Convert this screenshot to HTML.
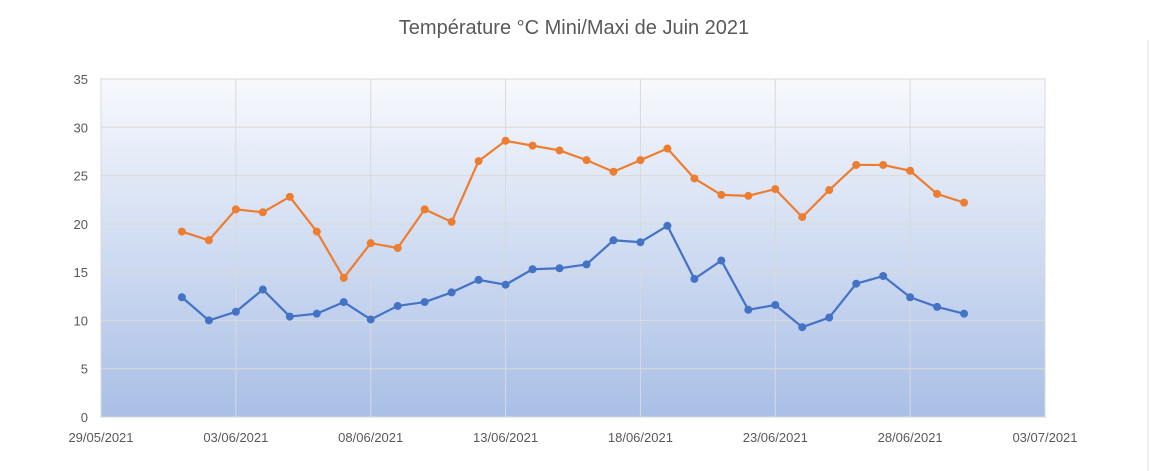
<!DOCTYPE html>
<html><head><meta charset="utf-8"><style>
html,body{margin:0;padding:0;background:#fff;}
svg{display:block;font-family:"Liberation Sans",sans-serif;}
</style></head><body>
<svg id="chart" width="1154" height="471" viewBox="0 0 1154 471">
<defs><linearGradient id="bg" x1="0" y1="0" x2="0" y2="1">
<stop offset="0" stop-color="#f7f9fd"/><stop offset="1" stop-color="#a9bfe6"/></linearGradient></defs>
<text x="574" y="34" text-anchor="middle" font-size="20" fill="#595959">Température °C Mini/Maxi de Juin 2021</text>
<rect x="101" y="79" width="944" height="338" fill="url(#bg)" stroke="#4472c4" stroke-width="1"/>
<line x1="1148" y1="40" x2="1148" y2="471" stroke="#e0e0e0"/>
<g id="grid"></g><g id="axes"></g><g id="series"></g>
</svg>
<script>
const yTicks=[0,5,10,15,20,25,30,35];
const xTickLabels=["29/05/2021","03/06/2021","08/06/2021","13/06/2021","18/06/2021","23/06/2021","28/06/2021","03/07/2021"];
const xTickDays=[-3,2,7,12,17,22,27,32];
const days=[0,1,2,3,4,5,6,7,8,9,10,11,12,13,14,15,16,17,18,19,20,21,22,23,24,25,26,27,28,29];
const maxi=[19.2,18.3,21.5,21.2,22.8,19.2,14.4,18.0,17.5,21.5,20.2,26.5,28.6,28.1,27.6,26.6,25.4,26.6,27.8,24.7,23.0,22.9,23.6,20.7,23.5,26.1,26.1,25.5,23.1,22.2];
const mini=[12.4,10.0,10.9,13.2,10.4,10.7,11.9,10.1,11.5,11.9,12.9,14.2,13.7,15.3,15.4,15.8,18.3,18.1,19.8,14.3,16.2,11.1,11.6,9.3,10.3,13.8,14.6,12.4,11.4,10.7];
const X0=101,X1=1045,Y0=417,Y1=79;
const xs=d=>X0+(d+3)*(X1-X0)/35;
const ys=v=>Y0-v*(Y0-Y1)/35;
const NS="http://www.w3.org/2000/svg";
function mk(t,a,p){const e=document.createElementNS(NS,t);for(const k in a)e.setAttribute(k,a[k]);p.appendChild(e);return e;}
const grid=document.getElementById('grid'),axes=document.getElementById('axes'),ser=document.getElementById('series');
yTicks.forEach(v=>{
 const l=mk('line',{x1:X0,x2:X1,y1:ys(v),y2:ys(v),stroke:'#d9d9d9','stroke-width':1},grid);
 
 
 const t=mk('text',{x:88,y:ys(v)+5,'text-anchor':'end','font-size':13,fill:'#595959'},axes);t.textContent=v;
 
 
});
xTickDays.forEach((d,i)=>{
 const l=mk('line',{x1:xs(d),x2:xs(d),y1:Y1,y2:Y0,stroke:'#d9d9d9','stroke-width':1},grid);
 
 
 const t=mk('text',{x:xs(d),y:442,'text-anchor':'middle','font-size':13,fill:'#595959'},axes);t.textContent=xTickLabels[i];
 
 
});
function draw(vals,color,name){
 const p=mk('polyline',{points:days.map((d,i)=>xs(d)+','+ys(vals[i])).join(' '),fill:'none',stroke:color,'stroke-width':2.2,'stroke-linejoin':'round'},ser);
 
 
 days.forEach((d,i)=>{
  const c=mk('circle',{cx:xs(d),cy:ys(vals[i]),r:4,fill:color},ser);
  
  
 });
}
draw(maxi,'#ed7d31','maxi');
draw(mini,'#4472c4','mini');
</script>
</body></html>
